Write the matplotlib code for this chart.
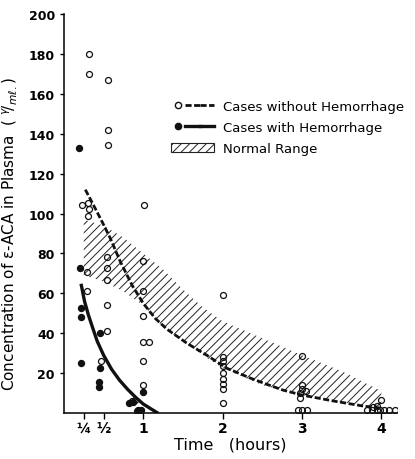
import matplotlib
matplotlib.use("Agg")
import matplotlib.pyplot as plt
from matplotlib.lines import Line2D
from matplotlib.patches import Patch
from matplotlib.legend_handler import HandlerTuple

# --- data (time in hours, concentration in gamma/ml) ---

# cases without hemorrhage (open circles)
open_t = [0.32, 0.32, 0.55, 0.56, 0.55, 0.23, 0.30, 0.31, 0.30, 1.01,
          0.29, 0.29, 0.54, 0.54, 0.54, 0.54, 0.54, 0.47,
          1.00, 1.00, 1.00, 1.00, 1.07, 1.00, 1.00, 0.86, 0.90, 0.92,
          2.0, 2.0, 2.0, 2.0, 2.0, 2.0, 2.0, 2.0, 2.0,
          3.0, 3.0, 3.0, 3.05, 2.98, 2.97, 2.95, 3.0, 3.06,
          4.0, 3.82, 3.88, 3.94, 3.99, 4.04, 4.10, 4.17, 3.90, 3.95]
open_v = [180, 170, 167, 142, 134.5, 104.5, 105.5, 102.5, 99, 104.5,
          70.5, 61, 78, 72.5, 66.5, 54, 41, 26,
          76, 61, 48.5, 35.5, 35.5, 26, 14, 6, 6.5, 1,
          59, 28, 26, 23.5, 20, 17, 14.5, 12, 5,
          28.5, 14, 12, 11, 10, 7.5, 1.5, 1.5, 1.5,
          6.5, 1.5, 1.5, 1.5, 1.5, 1.5, 1.5, 1.5, 3, 3.5]

# cases with hemorrhage (filled circles)
filled_t = [0.19, 0.20, 0.22, 0.21, 0.22, 0.46, 0.45, 0.44, 0.44,
            0.82, 0.87, 1.00, 0.93, 0.97]
filled_v = [133, 72.5, 52.5, 48, 25, 40, 22.5, 15.5, 13,
            5, 5.5, 10.5, 1.5, 1.5]

# fitted curves
curve_no_t = [0.27, 0.35, 0.48, 0.58, 0.71, 0.86, 1.0, 1.15, 1.3, 1.55,
              1.8, 2.05, 2.35, 2.55, 2.76, 3.0, 3.4, 3.77, 3.98]
curve_no_v = [112, 106, 96, 88, 76, 64, 55, 47.5, 42, 35,
              29, 22.5, 17.5, 14.5, 11.5, 9, 6, 3.5, 2.5]

curve_hem_t = [0.22, 0.26, 0.31, 0.36, 0.42, 0.5, 0.6, 0.7, 0.8, 0.9, 1.0, 1.1, 1.17]
curve_hem_v = [64, 56, 49, 43, 36, 29, 22, 16.5, 12, 8, 4.5, 2, 0.3]

# normal range band
band_t = [0.25, 0.5, 0.75, 1.0, 1.25, 1.5, 1.75, 2.0, 2.5, 3.0, 3.5, 4.0]
band_low = [69, 66, 61, 54, 43, 36, 29, 22.5, 14, 9, 5.5, 2.5]
band_high = [97, 94, 88, 80, 72, 62, 53, 46, 37.5, 29, 21, 11]

x_ticks = [0.25, 0.5, 1, 2, 3, 4]
x_ticklabels = ["¼", "½", "1", "2", "3", "4"]
y_ticks = [20, 40, 60, 80, 100, 120, 140, 160, 180, 200]

plt.rcParams["hatch.linewidth"] = 0.7

fig = plt.figure(figsize=(4.15, 4.6), dpi=100)
ax = fig.add_axes([0.154, 0.1, 0.803, 0.867])

ax.fill_between(band_t, band_low, band_high, facecolor="none",
                edgecolor="#222222", hatch="////", linewidth=0, zorder=1)

ax.plot(curve_no_t, curve_no_v, color="#111111", lw=2.0,
        linestyle=(0, (2.2, 0.9)), zorder=2)
ax.plot(curve_hem_t, curve_hem_v, color="#111111", lw=2.4, zorder=2)

ax.plot(open_t, open_v, "o", ms=4.3, mfc="none", mec="#111111", mew=0.9,
        linestyle="none", zorder=3)
ax.plot(filled_t, filled_v, "o", ms=4.3, mfc="#111111", mec="#111111",
        linestyle="none", zorder=3)

ax.set_xlim(0, 4.2)
ax.set_ylim(0, 200)
ax.set_xticks(x_ticks)
ax.set_xticklabels(x_ticklabels, fontsize=10, fontweight="bold")
ax.set_yticks(y_ticks)
ax.tick_params(axis="y", labelsize=9, length=3, width=1)
ax.tick_params(axis="x", length=4, width=1, pad=2)
for lab in ax.get_yticklabels():
    lab.set_fontweight("bold")

for side in ["top", "right"]:
    ax.spines[side].set_visible(False)
ax.spines["left"].set_linewidth(1.1)
ax.spines["bottom"].set_linewidth(1.1)

ax.set_xlabel("Time   (hours)", fontsize=11.5, labelpad=1)
ax.set_ylabel("Concentration of ε-ACA in Plasma  " + r"( $^{\gamma}\!/_{m\ell.}$)",
              fontsize=11)
ax.yaxis.set_label_coords(-0.135, 0.45)

# legend
h_open = Line2D([], [], marker="o", ms=4.5, mfc="none", mec="#111111", mew=1.0, linestyle="none")
h_fill = Line2D([], [], marker="o", ms=4.5, mfc="#111111", mec="#111111", linestyle="none")
l_dash = Line2D([], [], color="#111111", lw=2.0, linestyle=(0, (2.2, 0.9)))
l_solid = Line2D([], [], color="#111111", lw=2.4)
h_band = Patch(facecolor="none", edgecolor="#222222", hatch="////", linewidth=0.8)

ax.legend([(h_open, l_dash, l_dash), (h_fill, l_solid, l_solid), h_band],
          ["Cases without Hemorrhage", "Cases with Hemorrhage", "Normal Range"],
          handler_map={tuple: HandlerTuple(ndivide=None, pad=0)},
          loc="upper left", bbox_to_anchor=(0.32, 0.785), frameon=False,
          fontsize=9.5, handlelength=3.3, handletextpad=0.7,
          labelspacing=0.6, borderpad=0, borderaxespad=0)

fig.savefig("out.png", dpi=100, facecolor="white")
